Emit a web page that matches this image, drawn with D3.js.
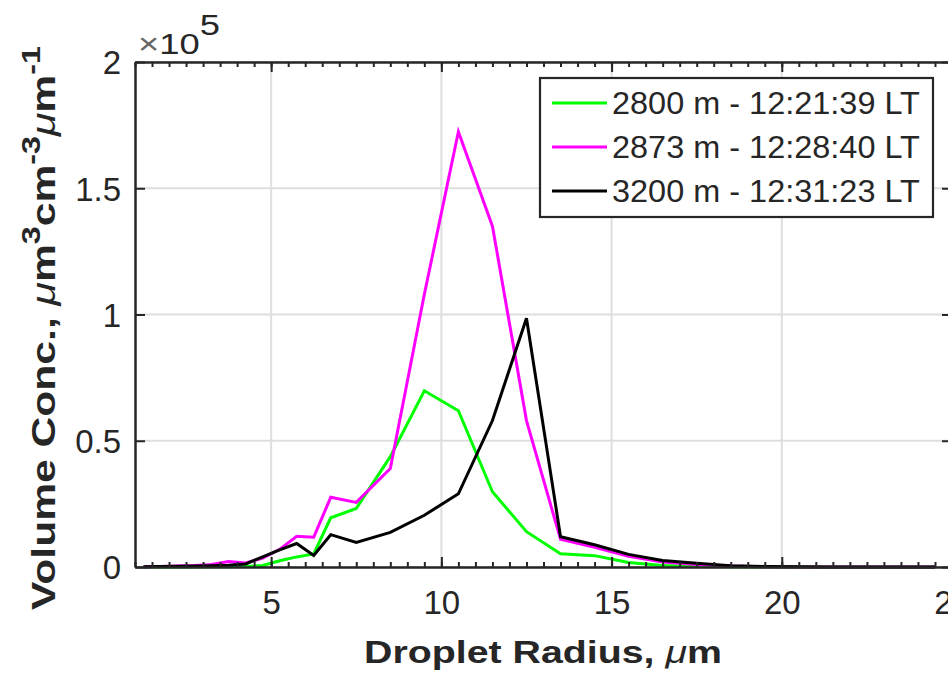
<!DOCTYPE html>
<html>
<head>
<meta charset="utf-8">
<script src="https://cdn.jsdelivr.net/npm/d3@7"></script>
<style>
  body { margin: 0; background: #fff; }
  svg { display: block; font-family: "Liberation Sans", Arial, sans-serif; }
</style>
</head>
<body>
<svg width="948" height="675"></svg>
<script>
// bin centres, droplet radius (um)
var radius = [1.25, 1.75, 2.25, 2.75, 3.25, 3.75, 4.25, 4.75, 5.25, 5.75, 6.25, 6.75,
              7.5, 8.5, 9.5, 10.5, 11.5, 12.5, 13.5, 14.5, 15.5, 16.5, 17.5, 18.5,
              19.5, 20.5, 21.5, 22.5, 23.5, 24.5];

// volume concentration, um^3 cm^-3 um^-1
var conc2800 = [0, 0, 0, 0, 100, 100, 200, 600, 2500, 4000, 5200, 19500,
                23200, 43700, 69800, 61900, 29800, 14000, 5200, 4500, 1800, 600, 200, 100,
                0, 0, 0, 0, 0, 0];
var conc2873 = [100, 200, 400, 600, 1000, 2200, 1600, 3500, 7000, 12200, 11800, 27600,
                25600, 39000, 108000, 172400, 135000, 58000, 11000, 7800, 4200, 2000, 1000, 400,
                100, 0, 0, 0, 0, 0];
var conc3200 = [100, 200, 300, 400, 500, 700, 1200, 4000, 6800, 9300, 4600, 12800,
                9700, 13700, 20500, 29000, 58000, 98500, 12000, 8800, 5000, 2600, 1500, 500,
                200, 100, 0, 0, 0, 0];

var seriesNames = ["2800 m - 12:21:39 LT", "2873 m - 12:28:40 LT", "3200 m - 12:31:23 LT"];
var seriesColors = ["#00ff00", "#ff00ff", "#000000"];

var xTicks = [5, 10, 15, 20, 25];
var yTicks = [0, 50000, 100000, 150000, 200000];

var axisColor = "#262626";

var svg = d3.select("svg");

var x = d3.scaleLinear().domain([1, 25]).range([135, 952]);
var y = d3.scaleLinear().domain([0, 200000]).range([567, 62]);

svg.append("rect").attr("width", 948).attr("height", 675).attr("fill", "#fff");

// grid
var grid = svg.append("g").attr("stroke", "#dedede").attr("stroke-width", 2);
grid.selectAll("line.gx")
    .data(xTicks)
    .enter().append("line")
    .attr("x1", function(d) { return x(d); })
    .attr("x2", function(d) { return x(d); })
    .attr("y1", y(0)).attr("y2", y(200000));
grid.selectAll("line.gy")
    .data(yTicks)
    .enter().append("line")
    .attr("x1", x(1)).attr("x2", x(25))
    .attr("y1", function(d) { return y(d); })
    .attr("y2", function(d) { return y(d); });

// series
var series = [conc2800, conc2873, conc3200];
var line = d3.line()
    .x(function(d, i) { return x(radius[i]); })
    .y(function(d) { return y(d); });

svg.append("g").selectAll("path")
    .data(series)
    .enter().append("path")
    .attr("d", line)
    .attr("fill", "none")
    .attr("stroke", function(d, i) { return seriesColors[i]; })
    .attr("stroke-width", 3)
    .attr("stroke-linejoin", "miter");

// axes (ticks point inwards like matlab)
var minorX = d3.range(2, 50).map(function(k) { return k / 2; });

function styleAxis(g) {
  g.selectAll("path").attr("stroke", axisColor).attr("stroke-width", 2.5);
  g.selectAll("line").attr("stroke", axisColor).attr("stroke-width", 2);
  g.selectAll("text").attr("fill", axisColor).attr("font-size", 33);
}

svg.append("g")
    .attr("transform", "translate(0," + y(0) + ")")
    .call(d3.axisBottom(x).tickValues(minorX).tickSizeInner(-5).tickSizeOuter(0).tickFormat(""))
    .call(styleAxis);
svg.append("g")
    .attr("transform", "translate(0," + y(200000) + ")")
    .call(d3.axisTop(x).tickValues(minorX).tickSizeInner(-5).tickSizeOuter(0).tickFormat(""))
    .call(styleAxis);

svg.append("g")
    .attr("transform", "translate(0," + y(0) + ")")
    .call(d3.axisBottom(x).tickValues(xTicks).tickSizeInner(-10).tickSizeOuter(0).tickPadding(24))
    .call(styleAxis)
    .call(function(g) { g.select(".domain").remove(); });
svg.append("g")
    .attr("transform", "translate(0," + y(200000) + ")")
    .call(d3.axisTop(x).tickValues(xTicks).tickSizeInner(-10).tickSizeOuter(0).tickFormat(""))
    .call(styleAxis)
    .call(function(g) { g.select(".domain").remove(); });

svg.append("g")
    .attr("transform", "translate(" + x(1) + ",0)")
    .call(d3.axisLeft(y).tickValues(yTicks).tickSizeInner(-10).tickSizeOuter(0).tickPadding(14)
      .tickFormat(function(d) { return String(d / 100000); }))
    .call(styleAxis)
    .call(function(g) { g.selectAll("text").attr("dy", "0.36em"); });
svg.append("g")
    .attr("transform", "translate(" + x(25) + ",0)")
    .call(d3.axisRight(y).tickValues(yTicks).tickSizeInner(-10).tickSizeOuter(0).tickFormat(""))
    .call(styleAxis);

// stretch a label along its run to the measured length
function fitLength(sel, len) {
  var w = sel.node().getComputedTextLength();
  return len / w;
}

// exponent
var expo = svg.append("text")
    .attr("font-size", 30)
    .attr("fill", axisColor);
expo.append("tspan").attr("fill", "#666").text("\u00d7");
expo.append("tspan").text("10");
expo.append("tspan").attr("dy", -19).text("5");
expo.attr("transform", "translate(138,54) scale(" + fitLength(expo, 82) + ",1)");

// x label
var xl = svg.append("text")
    .attr("text-anchor", "middle")
    .attr("font-size", 31)
    .attr("font-weight", "bold")
    .attr("fill", axisColor);
xl.append("tspan").text("Droplet Radius, ");
xl.append("tspan").attr("font-style", "italic").attr("font-weight", "normal").text("\u03bc");
xl.append("tspan").text("m");
xl.attr("transform", "translate(543,663) scale(" + fitLength(xl, 358) + ",1)");

// y label
var yl = svg.append("text")
    .attr("text-anchor", "middle")
    .attr("font-size", 33)
    .attr("font-weight", "bold")
    .attr("fill", axisColor);
yl.append("tspan").text("Volume Conc., ");
yl.append("tspan").attr("font-style", "italic").attr("font-weight", "normal").text("\u03bc");
yl.append("tspan").text("m");
yl.append("tspan").attr("font-size", 25).attr("dy", -15).text("3");
yl.append("tspan").attr("dy", 15).text("cm");
yl.append("tspan").attr("font-size", 25).attr("dy", -15).text("-3");
yl.append("tspan").attr("dy", 15).attr("font-style", "italic").attr("font-weight", "normal").text("\u03bc");
yl.append("tspan").text("m");
yl.append("tspan").attr("font-size", 25).attr("dy", -15).text("-1");
yl.attr("transform", "translate(55,328) rotate(-90) scale(" + fitLength(yl, 564) + ",1)");

// legend
var legend = svg.append("g");
legend.append("rect")
    .attr("x", 540).attr("y", 78)
    .attr("width", 393).attr("height", 139)
    .attr("fill", "#fff")
    .attr("stroke", axisColor)
    .attr("stroke-width", 2.2);
var rowY = d3.scalePoint().domain(seriesNames).range([103, 191]);
var items = legend.selectAll("g.item")
    .data(seriesNames)
    .enter().append("g")
    .attr("transform", function(d) { return "translate(0," + rowY(d) + ")"; });
items.append("line")
    .attr("x1", 552).attr("x2", 607)
    .attr("stroke", function(d, i) { return seriesColors[i]; })
    .attr("stroke-width", 3);
items.append("text")
    .attr("dy", "0.36em")
    .attr("font-size", 31)
    .attr("fill", axisColor)
    .text(function(d) { return d; })
    .each(function() {
      var t = d3.select(this);
      t.attr("transform", "translate(612,0) scale(" + fitLength(t, 308) + ",1)");
    });
</script>
</body>
</html>
